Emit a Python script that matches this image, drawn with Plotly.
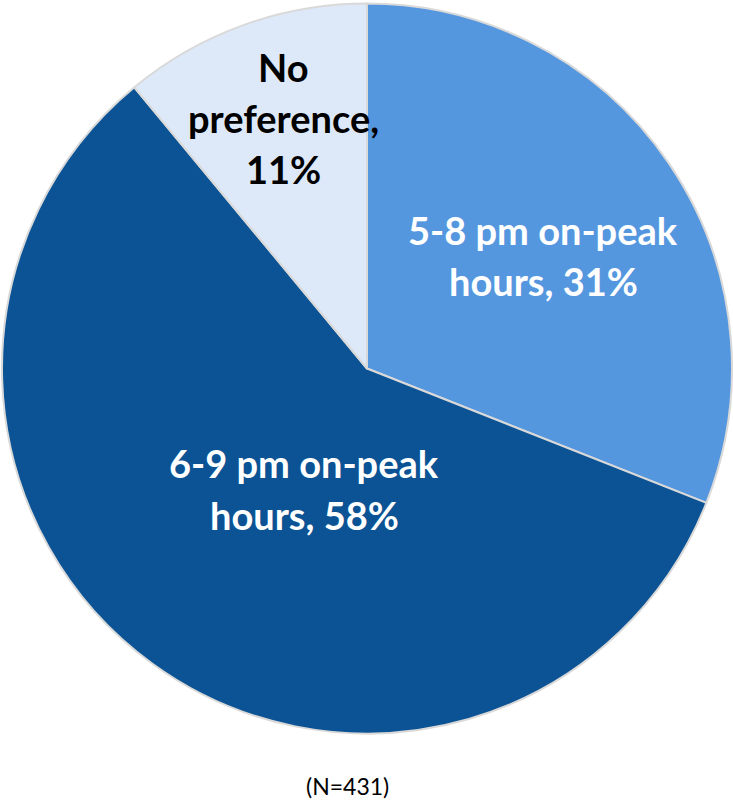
import plotly.graph_objects as go

W, H = 733, 802

categories = ["5-8 pm on-peak hours", "6-9 pm on-peak hours", "No preference"]
values = [31, 58, 11]
colors = ["#5597DF", "#0B5394", "#DDE9F8"]
label_lines = [["5-8 pm on-peak", "hours, 31%"],
               ["6-9 pm on-peak", "hours, 58%"],
               ["No", "preference,", "11%"]]
label_colors = ["white", "white", "black"]
label_centers = [(543, 255), (304, 489), (283, 118)]
line_gap = 51
note = "(N=431)"

fig = go.Figure(go.Pie(
    labels=categories,
    values=values,
    sort=False,
    direction="clockwise",
    rotation=0,
    textinfo="none",
    hoverinfo="label+percent",
    marker=dict(colors=colors, line=dict(color="#D9D9D9", width=2)),
    domain=dict(x=[2 / W, 732 / W], y=[1 - 734 / H, 1 - 3 / H]),
    showlegend=False,
))

annotations = []
for lines, col, (cx, cy) in zip(label_lines, label_colors, label_centers):
    n = len(lines)
    for i, ln in enumerate(lines):
        py = cy + (i - (n - 1) / 2) * line_gap
        annotations.append(dict(
            text=ln, x=cx / W, y=1 - py / H, xref="paper", yref="paper",
            xanchor="center", yanchor="middle", showarrow=False,
            font=dict(family="Lato", size=38, color=col, weight="bold"),
        ))
annotations.append(dict(
    text=note, x=347 / W, y=1 - 786 / H, xref="paper", yref="paper",
    xanchor="center", yanchor="middle", showarrow=False,
    font=dict(family="Lato", size=23, color="black"),
))

fig.update_layout(
    width=W, height=H,
    margin=dict(l=0, r=0, t=0, b=0),
    paper_bgcolor="white", plot_bgcolor="white",
    annotations=annotations,
)

fig.write_html("out.html")
